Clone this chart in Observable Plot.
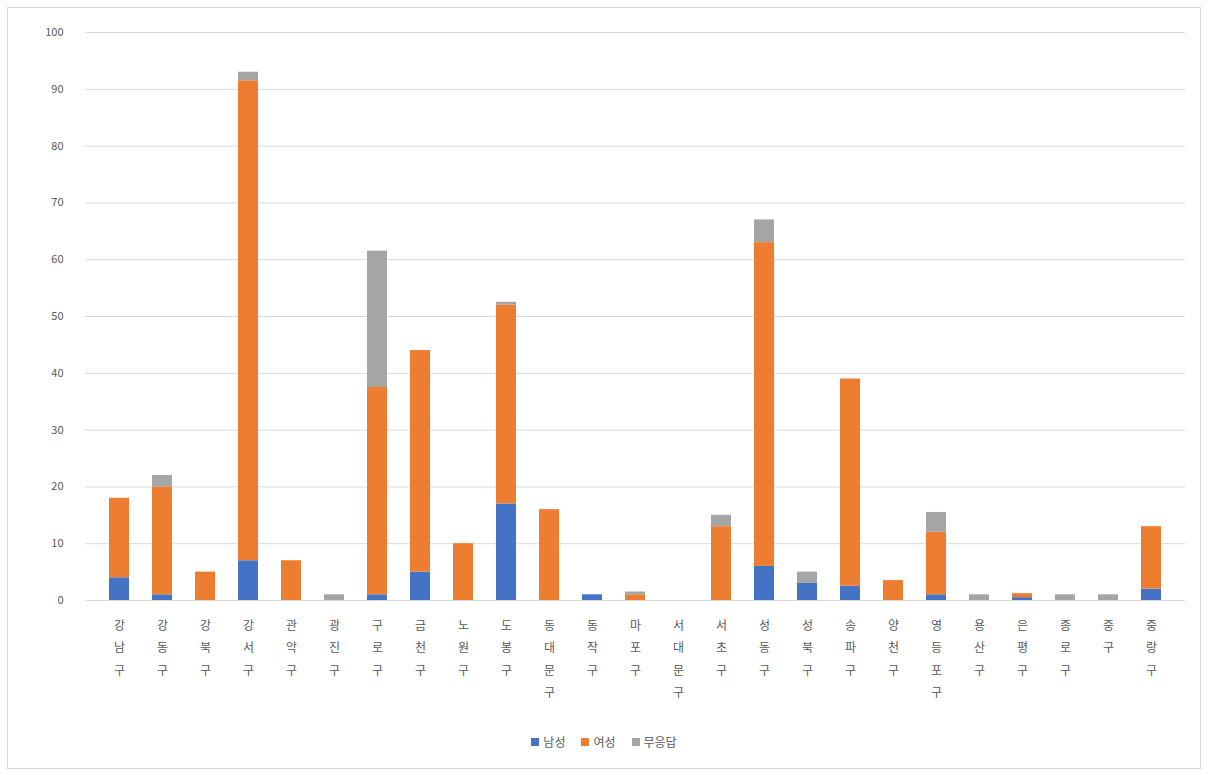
<!DOCTYPE html>
<html>
<head>
<meta charset="utf-8">
<script src="https://cdn.jsdelivr.net/npm/d3@7"></script>
<script src="https://cdn.jsdelivr.net/npm/@observablehq/plot@0.6"></script>
<style>
  body { margin: 0; background: #fff; font-family: "Noto Sans CJK KR", "Noto Sans", sans-serif; }
  #wrap { position: relative; width: 1208px; height: 775px; overflow: hidden; }
  #border { position: absolute; left: 7px; top: 7px; width: 1192px; height: 760px; border: 1px solid #d9d9d9; pointer-events: none; }
  #legend { position: absolute; left: 0; top: 733px; width: 1208px; display: flex; justify-content: center; gap: 16px; font-size: 12px; color: #595959; }
  #legend span.item { display: inline-flex; align-items: center; gap: 4px; }
  #legend span.sw { width: 8px; height: 8px; display: inline-block; }
</style>
</head>
<body>
<div id="wrap"><div id="chart"></div><div id="legend"></div><div id="border"></div></div>
<script>
const districts = ["강남구","강동구","강북구","강서구","관악구","광진구","구로구","금천구","노원구","도봉구","동대문구","동작구","마포구","서대문구","서초구","성동구","성북구","송파구","양천구","영등포구","용산구","은평구","종로구","중구","중랑구"];
const seriesNames = ["남성","여성","무응답"];
const seriesColors = ["#4472C4","#ED7D31","#A5A5A5"];
const male    = [4, 1, 0, 7, 0, 0, 1, 5, 0, 17, 0, 1, 0, 0, 0, 6, 3, 2.5, 0, 1, 0, 0.5, 0, 0, 2];
const female  = [14, 19, 5, 84.5, 7, 0, 36.5, 39, 10, 35, 16, 0, 1, 0, 13, 57, 0, 36.5, 3.5, 11, 0, 0.7, 0, 0, 11];
const noResp  = [0, 2, 0, 1.5, 0, 1, 24, 0, 0, 0.5, 0, 0, 0.5, 0, 2, 4, 2, 0, 0, 3.5, 1, 0, 1, 1, 0];
const yTicks = [0,10,20,30,40,50,60,70,80,90,100];

const seriesValues = [male, female, noResp];
const data = [];
districts.forEach((d, i) => {
  seriesNames.forEach((s, j) => data.push({gu: d, series: s, value: seriesValues[j][i]}));
});

const chart = Plot.plot({
  width: 1208,
  height: 720,
  marginTop: 32,
  marginBottom: 120,
  marginLeft: 85,
  marginRight: 23,
  style: {fontFamily: '"Noto Sans CJK KR", "Noto Sans", sans-serif', color: "#595959", background: "transparent"},
  x: {domain: districts, padding: 0.54, label: null},
  y: {domain: [0, 100], label: null},
  color: {domain: seriesNames, range: seriesColors},
  marks: [
    Plot.gridY(yTicks, {stroke: "#d9d9d9", strokeOpacity: 1}),
    Plot.axisY(yTicks, {tickSize: 0, tickPadding: 22, fontSize: 11, label: null, fill: "#595959"}),
    Plot.axisX({tickSize: 0, tickPadding: 14, fontSize: 12, lineHeight: 1.85, label: null, fill: "#595959",
      tickFormat: d => d.split("").join("\n"), textAnchor: "middle", lineAnchor: "top"}),
    Plot.barY(data, {x: "gu", y: "value", fill: "series", order: seriesNames}),
    Plot.ruleY([0], {stroke: "#d9d9d9"})
  ]
});
document.getElementById("chart").appendChild(chart);

const legend = document.getElementById("legend");
seriesNames.forEach((s, i) => {
  const item = document.createElement("span");
  item.className = "item";
  const sw = document.createElement("span");
  sw.className = "sw";
  sw.style.background = seriesColors[i];
  item.appendChild(sw);
  item.appendChild(document.createTextNode(s));
  legend.appendChild(item);
});
</script>
</body>
</html>
